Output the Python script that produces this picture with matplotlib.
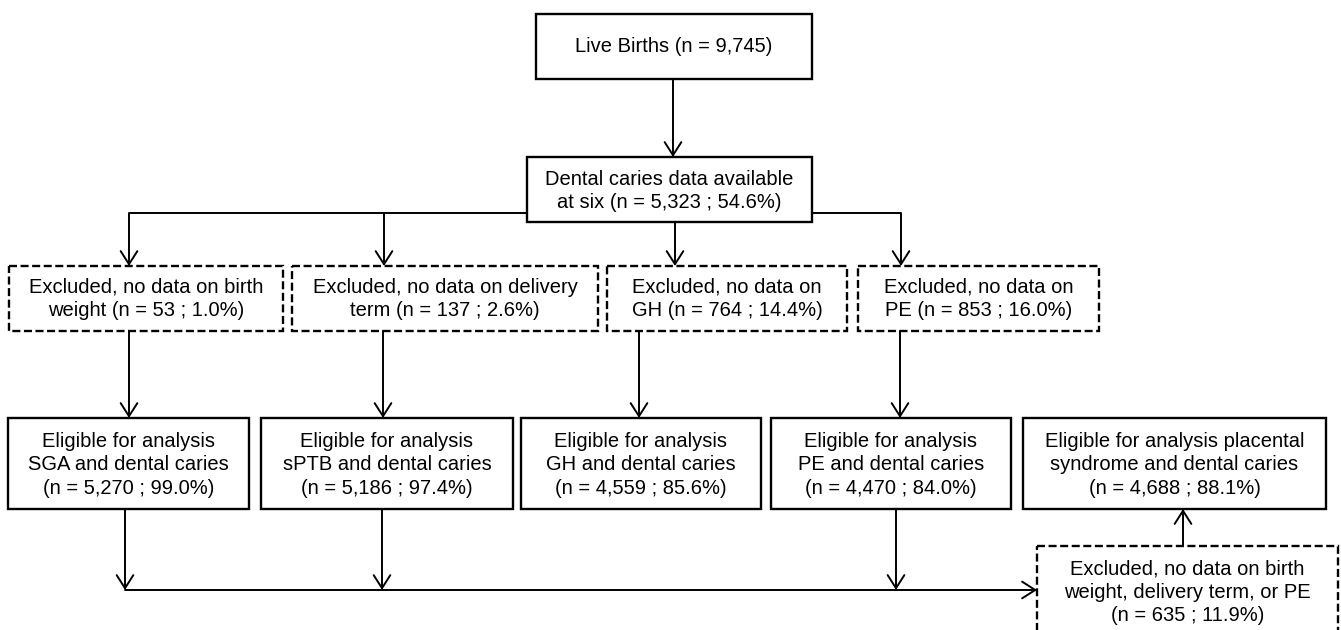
import matplotlib.pyplot as plt
from matplotlib.patches import Rectangle, FancyArrowPatch

plt.rcParams['font.family'] = ['Liberation Sans', 'DejaVu Sans']

# ---- data (counts and percentages shown in the flowchart) ----
live_births = 9745
caries_n = 5323
caries_pct = 54.6

excl_first = ["Excluded, no data on birth", "Excluded, no data on delivery",
              "Excluded, no data on", "Excluded, no data on"]
excl_second = ["weight", "term", "GH", "PE"]
excl_n = [53, 137, 764, 853]
excl_pct = [1.0, 2.6, 14.4, 16.0]

elig_first = ["Eligible for analysis", "Eligible for analysis", "Eligible for analysis",
              "Eligible for analysis", "Eligible for analysis placental"]
elig_second = ["SGA and dental caries", "sPTB and dental caries", "GH and dental caries",
               "PE and dental caries", "syndrome and dental caries"]
elig_n = [5270, 5186, 4559, 4470, 4688]
elig_pct = [99.0, 97.4, 85.6, 84.0, 88.1]

final_excl_n = 635
final_excl_pct = 11.9

# ---- layout (pixel coordinates, y downwards) ----
W, H = 1341, 630
FS = 14.5
BOX_LW = 1.7
LINE_LW = 1.4

fig = plt.figure(figsize=(W / 100, H / 100), dpi=100)
ax = fig.add_axes([0, 0, 1, 1])
ax.set_xlim(0, W)
ax.set_ylim(H, 0)
ax.axis('off')


def box(x0, y0, x1, y1, dashed=False):
    ls = (0, (3.4, 1.5)) if dashed else '-'
    ax.add_patch(Rectangle((x0, y0), x1 - x0, y1 - y0, fill=False,
                           edgecolor='black', lw=BOX_LW, linestyle=ls))


def label(x, y, s):
    ax.text(x, y, s, ha='center', va='center', fontsize=FS,
            linespacing=1.27, color='black')


def arrow(x0, y0, x1, y1):
    ax.add_patch(FancyArrowPatch((x0, y0), (x1, y1),
                                 arrowstyle='->,head_length=0.47,head_width=0.3',
                                 mutation_scale=20, lw=LINE_LW, color='black',
                                 shrinkA=0, shrinkB=0))


def line(xs, ys):
    ax.plot(xs, ys, color='black', lw=LINE_LW, solid_capstyle='butt')


# top boxes
box(536, 14, 812, 79)
label(674, 47, f"Live Births (n = {live_births:,})")
arrow(673, 79, 673, 157)

box(527, 157, 812, 222)
label(669.5, 191, f"Dental caries data available\nat six (n = {caries_n:,} ; {caries_pct:.1f}%)")

# branch to exclusion boxes
line([129, 527], [213, 213])
line([812, 901], [213, 213])

excl_x = [(9, 283), (292, 598), (607, 847), (858, 1099)]
branch_x = [129, 384, 675, 901]
down_x = [129, 383, 639, 900]
for i in range(4):
    y_start = 222 if i == 2 else 213
    arrow(branch_x[i], y_start, branch_x[i], 266)
    x0, x1 = excl_x[i]
    box(x0, 266, x1, 331, dashed=True)
    label((x0 + x1) / 2, 299,
          f"{excl_first[i]}\n{excl_second[i]} (n = {excl_n[i]} ; {excl_pct[i]:.1f}%)")
    arrow(down_x[i], 331, down_x[i], 418)

# eligible boxes
elig_x = [(8, 249), (261, 513), (521, 761), (771, 1011), (1023, 1326)]
for i in range(5):
    x0, x1 = elig_x[i]
    box(x0, 418, x1, 509)
    label((x0 + x1) / 2, 465,
          f"{elig_first[i]}\n{elig_second[i]}\n(n = {elig_n[i]:,} ; {elig_pct[i]:.1f}%)")

# bottom merge line
for x in [125, 382, 896]:
    arrow(x, 509, x, 590)
arrow(125, 590, 1037, 590)

# final exclusion box
box(1037, 546, 1338, 645, dashed=True)
label(1187.5, 592,
      f"Excluded, no data on birth\nweight, delivery term, or PE\n(n = {final_excl_n} ; {final_excl_pct:.1f}%)")
arrow(1183, 546, 1183, 509)

fig.savefig("out.png", dpi=100)
